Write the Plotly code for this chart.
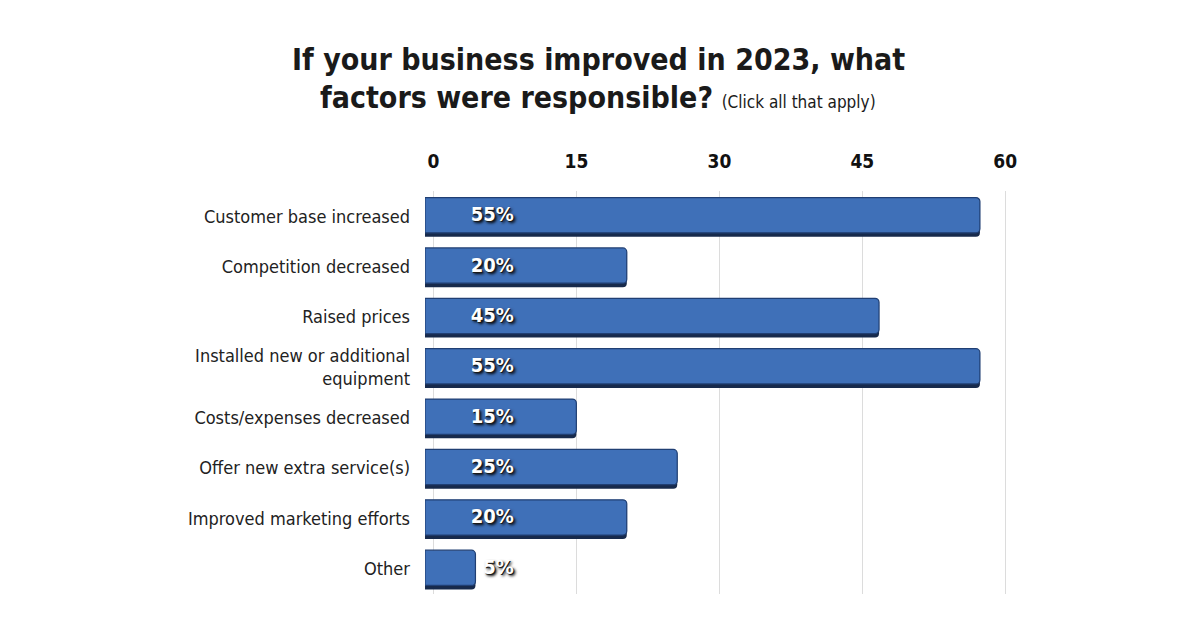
import plotly.graph_objects as go

categories = [
    "Customer base increased",
    "Competition decreased",
    "Raised prices",
    "Installed new or additional<br>equipment",
    "Costs/expenses decreased",
    "Offer new extra service(s)",
    "Improved marketing efforts",
    "Other",
]
values = [55, 20, 45, 55, 15, 25, 20, 5]
labels = ["55%", "20%", "45%", "55%", "15%", "25%", "20%", "5%"]
tick_vals = [0, 15, 30, 45, 60]

FONT = "DejaVu Sans Condensed, Liberation Sans Narrow, Arial"
LABEL_X = 8.8  # where value labels end on the bar axis

fig = go.Figure()

# dummy trace carrying the tick axis
fig.add_trace(go.Scatter(x=[tick_vals[0], tick_vals[-1]], y=[categories[0], categories[0]],
                         xaxis="x", yaxis="y", mode="markers",
                         marker=dict(opacity=0), hoverinfo="skip", showlegend=False))

# depth / shadow of the bars
fig.add_trace(go.Bar(
    y=categories, x=values, orientation="h", xaxis="x2", yaxis="y",
    width=0.72, offset=-0.31,
    marker=dict(color="#172a4c", line=dict(width=0), cornerradius=4),
    hoverinfo="skip", showlegend=False,
))

fig.add_trace(go.Bar(
    y=categories, x=values, orientation="h", xaxis="x2", yaxis="y",
    width=0.70, offset=-0.37,
    marker=dict(color="#3f70b8", line=dict(color="#203f73", width=1.2), cornerradius=4),
    hoverinfo="skip", showlegend=False,
))

fig.add_trace(go.Scatter(
    y=categories, x=[LABEL_X] * len(categories), text=labels,
    mode="text", textposition="middle left", xaxis="x2", yaxis="y",
    textfont=dict(family=FONT, size=20, color="white", weight="bold",
                  shadow="1px 1px 0px #1a1a1a, 2px 2px 3px #000"),
    hoverinfo="skip", showlegend=False,
))

fig.update_layout(
    width=1200, height=628,
    margin=dict(l=425, r=190, t=191, b=34),
    paper_bgcolor="white", plot_bgcolor="white",
    font=dict(family=FONT, color="#222"),
    barmode="overlay",
    xaxis=dict(side="top", range=[-0.9, 60.5], tickvals=tick_vals,
               showgrid=True, gridcolor="#dcdcdc", gridwidth=1, zeroline=False,
               showline=False, ticks="", ticklabelstandoff=18,
               tickfont=dict(size=19, color="#111", weight="bold")),
    xaxis2=dict(overlaying="x", side="top", range=[0, 57.98], visible=False),
    yaxis=dict(autorange="reversed", showgrid=False, zeroline=False, showline=False,
               ticks="", ticklabelstandoff=14,
               tickfont=dict(size=18, color="#222")),
)

fig.add_annotation(text="<b>If your business improved in 2023, what</b>",
                   xref="paper", yref="paper", x=(598 - 425) / 585, y=1 + (191 - 60) / 403,
                   xanchor="center", yanchor="middle", showarrow=False,
                   font=dict(family=FONT, size=30, color="#1a1a1a"))
fig.add_annotation(text="<b>factors were responsible?</b> "
                        "<span style='font-size:17px'>(Click all that apply)</span>",
                   xref="paper", yref="paper", x=(598 - 425) / 585, y=1 + (191 - 98) / 403,
                   xanchor="center", yanchor="middle", showarrow=False,
                   font=dict(family=FONT, size=30, color="#1a1a1a"))

fig.write_html("out.html")
